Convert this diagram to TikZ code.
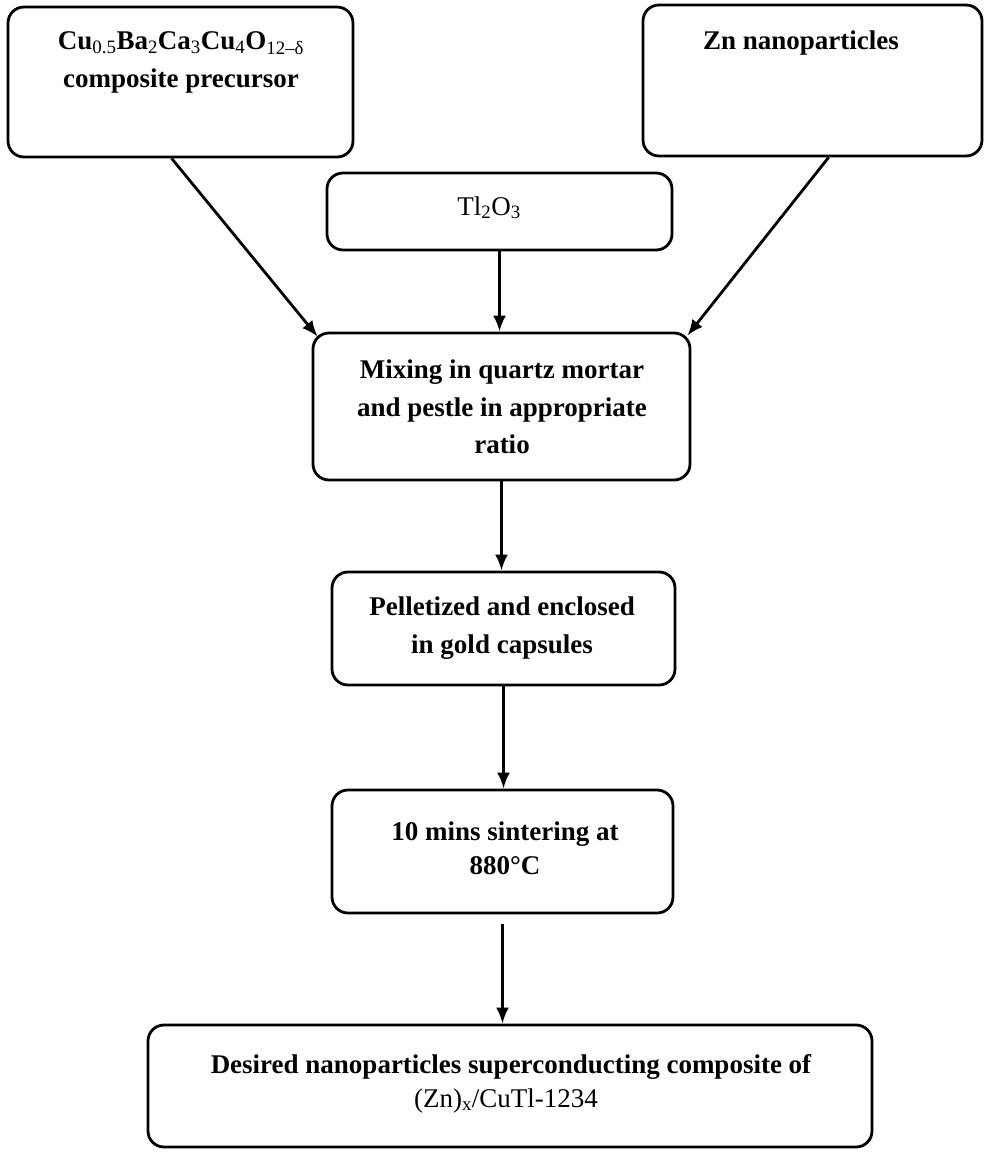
\documentclass[tikz,border=0pt]{standalone}
\usepackage{fontspec}
\setmainfont{Liberation Serif}
\usetikzlibrary{arrows.meta,calc}
\tikzset{
  box/.style={draw, line width=2.8pt, rounded corners=16pt, inner sep=0pt},
  txt/.style={anchor=base, inner sep=0pt, font=\fontsize{27}{38}\selectfont\bfseries},
  rtxt/.style={anchor=base, inner sep=0pt, font=\fontsize{27}{38}\selectfont},
  arr/.style={line width=2.8pt, -{Latex[length=16pt,width=13pt]}},
}
\newcommand{\sbs}[1]{\textsubscript{\mdseries #1}}
\begin{document}
\begin{tikzpicture}[x=1pt,y=-1pt]
\useasboundingbox (0,0) rectangle (985,1156);
% boxes
\node[box, minimum width=345pt, minimum height=150pt] (pre) at (180.5,82) {};
\node[box, minimum width=339pt, minimum height=151pt] (zn) at (812.5,80.5) {};
\node[box, minimum width=345pt, minimum height=77pt] (tl) at (499.5,211.5) {};
\node[box, minimum width=377pt, minimum height=147pt] (mix) at (501.5,406.5) {};
\node[box, minimum width=343pt, minimum height=113pt] (pel) at (503.5,628.5) {};
\node[box, minimum width=341pt, minimum height=123pt] (sin) at (502.5,851.5) {};
\node[box, minimum width=724pt, minimum height=122pt] (fin) at (510,1086) {};
% texts
\node[txt] (pre1) at (181,50) {Cu\sbs{0.5}Ba\sbs{2}Ca\sbs{3}Cu\sbs{4}O\sbs{12–δ}};
\node[txt] (pre2) at (181,88) {composite precursor};
\node[txt] (zn1) at (801,50) {Zn nanoparticles};
\node[rtxt] (tl1) at (489,215) {Tl\textsubscript{2}O\textsubscript{3}};
\node[txt] (mix1) at (502,378) {Mixing in quartz mortar};
\node[txt] (mix2) at (502,416) {and pestle in appropriate};
\node[txt] (mix3) at (502,453) {ratio};
\node[txt] (pel1) at (502,615) {Pelletized and enclosed};
\node[txt] (pel2) at (502,653) {in gold capsules};
\node[txt] (sin1) at (505,840) {10 mins sintering at};
\node[txt] (sin2) at (505,874) {880°C};
\node[txt] (fin1) at (511,1073) {Desired nanoparticles superconducting composite of};
\node[rtxt] (fin2) at (506,1107) {(Zn)\textsubscript{x}/CuTl-1234};
% connectors
\draw[arr] ($(pre.south west)+(165,0)$) -- ($(mix.north west)+(6,5)$);
\draw[arr] ($(zn.south west)+(187,0)$) -- ($(mix.north east)+(-4,4)$);
\draw[arr] (tl.south) -- (tl.south |- mix.north);
\draw[arr] (mix.south) -- (mix.south |- pel.north);
\draw[arr] (pel.south) -- (pel.south |- sin.north);
\draw[arr] ($(sin.south)+(0,10)$) -- (sin.south |- fin.north);
\end{tikzpicture}
\end{document}
